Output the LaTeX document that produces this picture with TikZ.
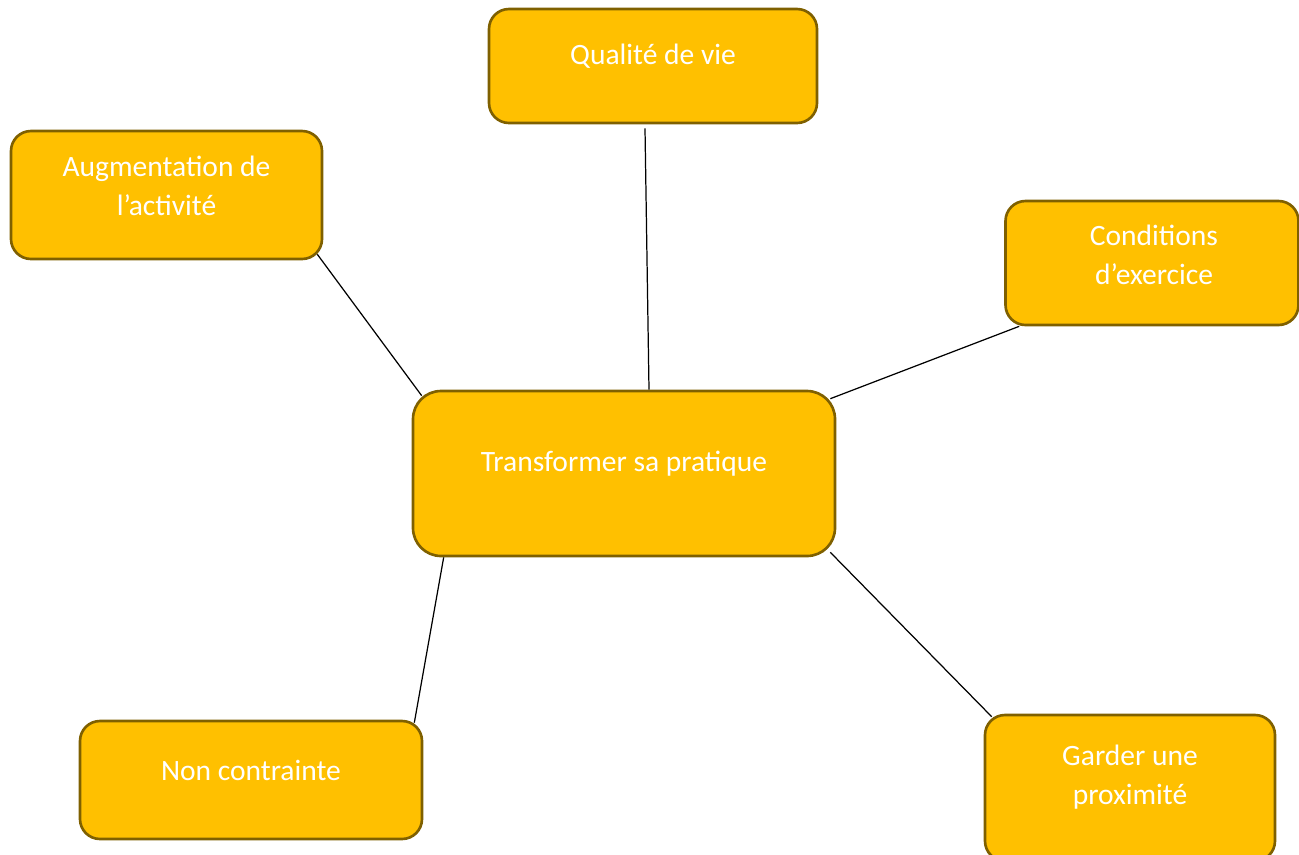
\documentclass[tikz,border=0pt]{standalone}
\usepackage{fontspec}
\setmainfont{Carlito}
\usetikzlibrary{calc}
\definecolor{gold}{HTML}{FFC000}
\definecolor{goldedge}{HTML}{7F6000}

\begin{document}
\begin{tikzpicture}[
    box/.style={draw=goldedge, fill=gold, rectangle, rounded corners=0.2cm,
                line width=0.75pt, inner sep=0pt},
    txt/.style={text=white, align=center, inner sep=0pt,
                font=\fontsize{8.4}{11}\selectfont},
    link/.style={draw=black, line width=0.35pt}
]
\useasboundingbox (0,0) rectangle (12.99,-8.54);

%% ---- BOXES (centres at coordinates) ----
\node [box, minimum width=3.28cm, minimum height=1.14cm] (qualite) at (6.53,-0.66)   {};
\node [box, minimum width=3.11cm, minimum height=1.28cm] (augm)    at (1.665,-1.95)  {};
\node [box, minimum width=2.93cm, minimum height=1.24cm] (cond)    at (11.52,-2.63)  {};
\node [box, minimum width=4.22cm, minimum height=1.65cm,
       rounded corners=0.28cm]                           (transf)  at (6.24,-4.735)  {};
\node [box, minimum width=3.42cm, minimum height=1.18cm] (nonc)    at (2.51,-7.80)   {};
\node [box, minimum width=2.90cm, minimum height=1.46cm] (garder)  at (11.30,-7.88)  {};

%% ---- TEXTS (a little above the box centres) ----
\node [txt] (qualite-t) at ($(qualite)+(0,0.1)$)    {Qualité de vie};
\node [txt] (augm-t)    at ($(augm)+(0,0.09)$)      {Augmentation de\\l’activité};
\node [txt] (cond-t)    at ($(cond)+(0.02,0.08)$)   {Conditions\\d’exercice};
\node [txt] (transf-t)  at ($(transf)+(0,0.1)$)     {Transformer sa pratique};
\node [txt] (nonc-t)    at ($(nonc)+(0,0.1)$)       {Non contrainte};
\node [txt] (garder-t)  at ($(garder)+(0,0.11)$)    {Garder une\\proximité};

%% ---- LINKS to the centre box ----
\draw [link] ($(qualite.south)+(-0.08,-0.04)$)   -- ($(transf.north)+(0.25,0)$);
\draw [link] ($(augm.south east)+(-0.06,0.06)$)  -- ($(transf.north west)+(0.10,-0.06)$);
\draw [link] ($(cond.south west)+(0.15,0)$)      -- ($(transf.north east)+(-0.06,-0.09)$);
\draw [link] ($(transf.south west)+(0.32,0)$)    -- ($(nonc.north east)+(-0.09,-0.03)$);
\draw [link] ($(transf.south east)+(-0.06,0.05)$) -- ($(garder.north west)+(0.08,-0.03)$);

\end{tikzpicture}
\end{document}
